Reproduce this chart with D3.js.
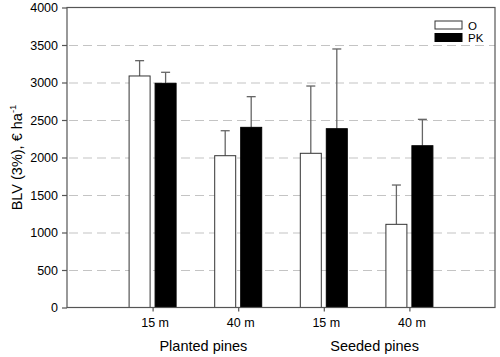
<!DOCTYPE html>
<html><head><meta charset="utf-8">
<script src="https://cdn.jsdelivr.net/npm/d3@7"></script>
<style>body{margin:0;background:#fff}svg{display:block;font-family:"Liberation Sans",Arial,sans-serif}</style>
</head><body><svg id="c" width="500" height="357"></svg>
<script>
const categories = ["15 m","40 m","15 m","40 m"];
const groups = ["Planted pines","Seeded pines"];
const seriesNames = ["O","PK"];
const valuesO = [3087, 2024, 2056, 1109];
const errO = [3291, 2357, 2953, 1633];
const valuesPK = [2989, 2402, 2384, 2157];
const errPK = [3136, 2811, 3447, 2509];
const yTicks = [0,500,1000,1500,2000,2500,3000,3500,4000];

const FF = "Liberation Sans, Arial, sans-serif";
const svg = d3.select("#c");
const m = {l:67, t:7.5, r:495, b:307.5};
const x = d3.scaleLinear().domain([0,5]).range([m.l, m.r]);
const y = d3.scaleLinear().domain([0,4000]).range([m.b, m.t]);
const barW = 21, gap = 2.5;

// grid
svg.append("g").selectAll("line").data(yTicks.filter(v=>v>0&&v<4000)).join("line")
  .attr("x1", m.l+2).attr("x2", m.r).attr("y1", d=>y(d)+0.5).attr("y2", d=>y(d)+0.5)
  .attr("stroke","#c4c4c4").attr("stroke-width",1.2).attr("stroke-dasharray","9,5");

const data = categories.map((c,i)=>({i, o:valuesO[i], eo:errO[i], pk:valuesPK[i], epk:errPK[i]}));
const bars = [];
data.forEach(d=>{
  bars.push({x0:x(d.i+1)-gap-barW, v:d.o, e:d.eo, s:0});
  bars.push({x0:x(d.i+1)+gap, v:d.pk, e:d.epk, s:1});
});
// error bars
const eg = svg.append("g").attr("stroke","#666").attr("stroke-width",1.3);
bars.forEach(b=>{
  const cx = b.x0+barW/2;
  eg.append("line").attr("x1",cx).attr("x2",cx).attr("y1",y(b.v)).attr("y2",y(b.e));
  eg.append("line").attr("x1",cx-4.5).attr("x2",cx+4.5).attr("y1",y(b.e)).attr("y2",y(b.e));
});
svg.append("g").selectAll("rect").data(bars).join("rect")
  .attr("x",d=>d.x0).attr("y",d=>y(d.v)).attr("width",barW).attr("height",d=>y(0)-y(d.v))
  .attr("fill",d=>d.s?"#000":"#fff").attr("stroke",d=>d.s?"#000":"#333").attr("stroke-width",1);

// frame
svg.append("rect").attr("x",m.l).attr("y",m.t).attr("width",m.r-m.l).attr("height",m.b-m.t)
  .attr("fill","none").attr("stroke","#555").attr("stroke-width",1.2);

// y axis
const ya = svg.append("g").attr("transform",`translate(${m.l},0)`)
  .call(d3.axisLeft(y).tickValues(yTicks).tickFormat(d3.format("d")).tickSize(5).tickPadding(4));
ya.select(".domain").remove();
ya.selectAll("line").attr("stroke","#555").attr("stroke-width",1.2);
ya.selectAll("text").attr("font-size","12.5px").attr("fill","#000").attr("font-family",FF);

// x axis
const xa = svg.append("g").attr("transform",`translate(0,${m.b})`)
  .call(d3.axisBottom(x).tickValues([1,2,3,4]).tickFormat((d,i)=>categories[i]).tickSize(4).tickPadding(7));
xa.select(".domain").remove();
xa.selectAll("line").attr("stroke","#555").attr("stroke-width",1.2);
xa.selectAll("text").attr("font-size","12.5px").attr("fill","#000").attr("dx","2").attr("font-family",FF);

// group labels
groups.forEach((g,i)=>{
  svg.append("text").attr("x",(x(2*i+1)+x(2*i+2))/2+8).attr("y",350.5)
    .attr("text-anchor","middle").attr("font-size","14.5px").text(g);
});

// y label
const yl = svg.append("text").attr("transform",`translate(22,${(m.t+m.b)/2}) rotate(-90)`)
  .attr("text-anchor","middle").attr("font-size","14.5px");
yl.append("tspan").text("BLV (3%), € ha");
yl.append("tspan").attr("font-size","9.5px").attr("dy","-6").text("-1");

// legend
const lg = svg.append("g");
seriesNames.forEach((s,i)=>{
  lg.append("rect").attr("x",435).attr("y",21+i*12.5).attr("width",27).attr("height",8)
    .attr("fill",i?"#000":"#fff").attr("stroke",i?"#000":"#333").attr("stroke-width",1);
  lg.append("text").attr("x",468).attr("y",29.5+i*12.5).attr("font-size","11.5px").text(s);
});
</script></body></html>
